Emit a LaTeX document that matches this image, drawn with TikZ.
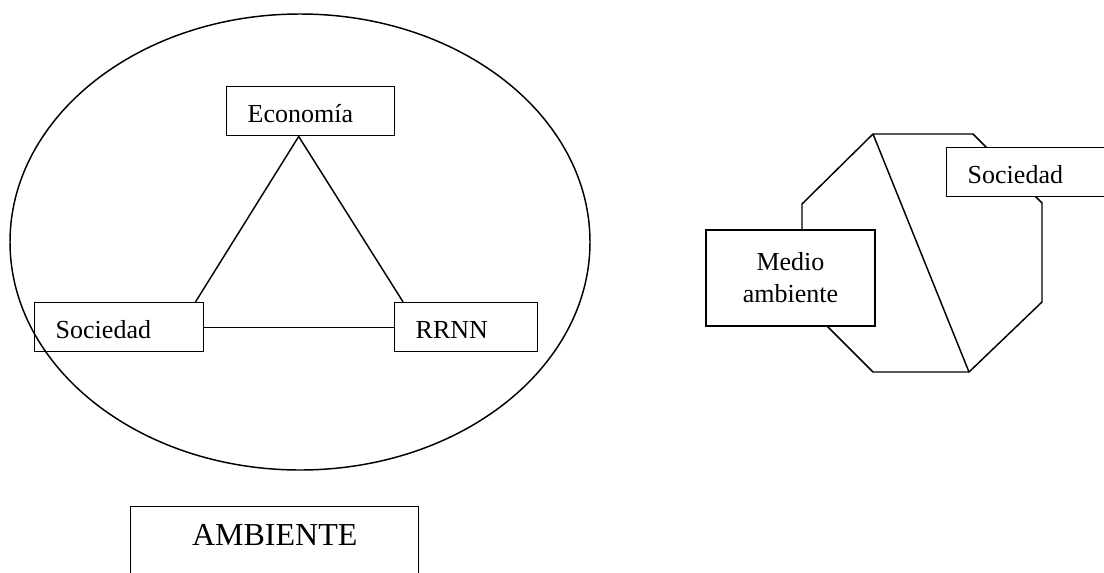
\documentclass[tikz,border=0pt]{standalone}
\usepackage{fontspec}
\setmainfont{Liberation Serif}
\usetikzlibrary{calc}
\begin{document}
\begin{tikzpicture}[x=0.75pt,y=-0.75pt,
  line/.style={line width=1.1pt, line join=miter},
  tbox/.style={draw, line width=1.1pt, anchor=north west, inner xsep=15.75pt, inner ysep=0pt,
    text height=27pt, text depth=9.75pt, align=left, font=\fontsize{19.5}{24}\selectfont},
  wbox/.style={tbox, fill=white}]
\useasboundingbox (0,0) rectangle (1104,572);
\clip (0,0) rectangle (1104,572);
% left: ellipse with triangle
\draw[line] (300,242) ellipse [x radius=217.5pt, y radius=171pt];
\node[tbox, text width=94.5pt] (eco) at (226,86) {Economía};
\node[tbox, text width=95.25pt] (soc) at (34,302) {Sociedad};
\node[tbox, text width=75.75pt] (rrnn) at (394,302) {RRNN};
\draw[line] ($(eco.south west)!0.429!(eco.south east)$) -- ($(soc.north west)!0.947!(soc.north east)$);
\draw[line] ($(eco.south west)!0.429!(eco.south east)$) -- ($(rrnn.north west)!0.063!(rrnn.north east)$);
\draw[line] (soc.east) -- (rrnn.west);
\node[draw, line width=1.1pt, anchor=north west, inner sep=0pt, text width=216pt, align=center,
  text height=29.25pt, text depth=30pt, font=\fontsize{24}{28}\selectfont] (amb) at (130,506) {AMBIENTE};
% right: octagon
\coordinate (o1) at (873,134);
\coordinate (o2) at (973,134);
\coordinate (o3) at (1042,203);
\coordinate (o4) at (1042,302);
\coordinate (o5) at (969,372);
\coordinate (o6) at (873,372);
\coordinate (o7) at (802,301);
\coordinate (o8) at (802,204);
\draw[line] (o1) -- (o2) -- (o3) -- (o4) -- (o5) -- (o6) -- (o7) -- (o8) -- cycle;
\draw[line] (o1) -- (o5);
\node[draw, line width=1.1pt, fill=white, minimum width=126.75pt, minimum height=72pt, inner sep=0pt,
  align=center, font=\fontsize{19.5}{24}\selectfont] (med) at (790.5,278) {Medio\\ambiente};
\node[wbox, text width=120pt] (soc2) at (946,147) {Sociedad};
\end{tikzpicture}
\end{document}
